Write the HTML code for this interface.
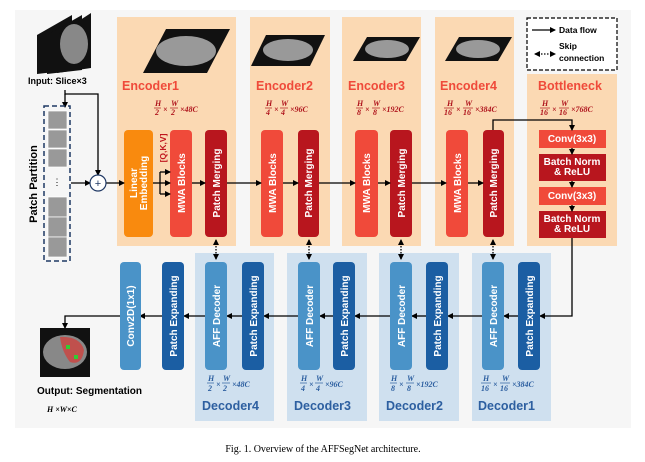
<!DOCTYPE html>
<html><head><meta charset="utf-8"><style>
body{margin:0;background:#fff;width:645px;height:462px;overflow:hidden}
svg{display:block;font-family:"Liberation Sans",Arial,sans-serif}
.w{fill:#fff;font-weight:bold;font-size:10px}
.m{font-family:"Liberation Serif",serif;font-style:italic;font-weight:bold;font-size:8px}
</style></head><body>
<svg width="645" height="462" viewBox="0 0 645 462">
<defs>
<marker id="a" markerWidth="6" markerHeight="6" refX="5" refY="3" orient="auto" markerUnits="userSpaceOnUse"><path d="M0,0 L6,3 L0,6z" fill="#000"/></marker>
<marker id="b" markerWidth="6" markerHeight="6" refX="5" refY="3" orient="auto-start-reverse" markerUnits="userSpaceOnUse"><path d="M0,0 L6,3 L0,6z" fill="#000"/></marker>
</defs>
<rect x="15" y="10" width="616" height="418" fill="#f6f6f6"/>
<g fill="#fbd9b3">
<rect x="117" y="17" width="119" height="229"/>
<rect x="250" y="17" width="80" height="229"/>
<rect x="342" y="17" width="79" height="229"/>
<rect x="435" y="17" width="79" height="229"/>
<rect x="527" y="74" width="90" height="172"/>
</g>
<g fill="#cfe0ef">
<rect x="195" y="253" width="79" height="168"/>
<rect x="287" y="253" width="80" height="168"/>
<rect x="379" y="253" width="80" height="168"/>
<rect x="472" y="253" width="79" height="168"/>
</g>
<rect x="527" y="18" width="90" height="52" fill="#fff" stroke="#000" stroke-width="1.2" stroke-dasharray="4,2"/>
<line x1="532" y1="30" x2="555" y2="30" stroke="#000" stroke-width="1.3" marker-end="url(#a)"/>
<text x="559" y="33" font-size="8.5" font-weight="bold">Data flow</text>
<line x1="535" y1="54" x2="555" y2="54" stroke="#000" stroke-width="1.3" stroke-dasharray="1.5,1.5" marker-end="url(#a)" marker-start="url(#b)"/>
<text x="559" y="49" font-size="8.5" font-weight="bold">Skip</text>
<text x="559" y="61" font-size="8.5" font-weight="bold">connection</text>
<polygon points="143,73 166,29 230,29 207,73" fill="#111"/><ellipse cx="186" cy="51" rx="30" ry="15" fill="#999"/>
<polygon points="251,66 266,35 325,35 310,66" fill="#111"/><ellipse cx="288" cy="50" rx="25" ry="11" fill="#999"/>
<polygon points="353,61 367,37 420,37 406,61" fill="#111"/><ellipse cx="387" cy="49" rx="22" ry="9" fill="#999"/>
<polygon points="445,61 459,37 512,37 498,61" fill="#111"/><ellipse cx="478" cy="49" rx="22" ry="9" fill="#999"/>
<polygon points="37,35 72,15 72,70 37,74" fill="#111"/>
<polygon points="47,35 82,15 82,70 47,74" fill="#111"/>
<polygon points="57,35 91,13 91,68 57,73" fill="#111"/>
<ellipse cx="74" cy="44" rx="14" ry="20" fill="#888"/>
<text x="28" y="84" font-size="9" font-weight="bold">Input: Slice×3</text>
<g fill="#ef4a3a" font-weight="bold" font-size="12.5">
<text x="122" y="90">Encoder1</text><text x="256" y="90">Encoder2</text><text x="348" y="90">Encoder3</text><text x="440" y="90">Encoder4</text><text x="538" y="90">Bottleneck</text>
</g>
<g fill="#b0161e" class="m">
<text x="155" y="106">H</text><line x1="154" y1="108" x2="161" y2="108" stroke="#b0161e" stroke-width=".7"/><text x="155" y="115">2</text><text x="163" y="112">×</text><text x="171" y="106">W</text><line x1="170" y1="108" x2="178" y2="108" stroke="#b0161e" stroke-width=".7"/><text x="171" y="115">2</text><text x="180" y="112">×48C</text>
<text x="266" y="106">H</text><line x1="265" y1="108" x2="272" y2="108" stroke="#b0161e" stroke-width=".7"/><text x="266" y="115">4</text><text x="274" y="112">×</text><text x="281" y="106">W</text><line x1="280" y1="108" x2="288" y2="108" stroke="#b0161e" stroke-width=".7"/><text x="281" y="115">4</text><text x="290" y="112">×96C</text>
<text x="357" y="106">H</text><line x1="356" y1="108" x2="363" y2="108" stroke="#b0161e" stroke-width=".7"/><text x="357" y="115">8</text><text x="365" y="112">×</text><text x="373" y="106">W</text><line x1="372" y1="108" x2="380" y2="108" stroke="#b0161e" stroke-width=".7"/><text x="373" y="115">8</text><text x="382" y="112">×192C</text>
<text x="447" y="106">H</text><line x1="444" y1="108" x2="454" y2="108" stroke="#b0161e" stroke-width=".7"/><text x="444" y="115">16</text><text x="456" y="112">×</text><text x="465" y="106">W</text><line x1="463" y1="108" x2="473" y2="108" stroke="#b0161e" stroke-width=".7"/><text x="463" y="115">16</text><text x="475" y="112">×384C</text>
<text x="542" y="106">H</text><line x1="540" y1="108" x2="550" y2="108" stroke="#b0161e" stroke-width=".7"/><text x="540" y="115">16</text><text x="552" y="112">×</text><text x="561" y="106">W</text><line x1="559" y1="108" x2="569" y2="108" stroke="#b0161e" stroke-width=".7"/><text x="559" y="115">16</text><text x="571" y="112">×768C</text>
</g>
<rect x="124" y="130" width="29" height="107" rx="4" fill="#f98a0e"/>
<g fill="#f04a3a"><rect x="170" y="130" width="22" height="107" rx="4"/><rect x="261" y="130" width="22" height="107" rx="4"/><rect x="355" y="130" width="23" height="107" rx="4"/><rect x="446" y="130" width="22" height="107" rx="4"/></g>
<g fill="#b8161e"><rect x="205" y="130" width="22" height="107" rx="4"/><rect x="298" y="130" width="21" height="107" rx="4"/><rect x="390" y="130" width="22" height="107" rx="4"/><rect x="483" y="130" width="21" height="107" rx="4"/></g>
<g class="w" text-anchor="middle">
<text transform="translate(137,183) rotate(-90)">Linear</text><text transform="translate(147,183) rotate(-90)">Embedding</text>
<text transform="translate(185,183) rotate(-90)">MWA Blocks</text><text transform="translate(276,183) rotate(-90)">MWA Blocks</text><text transform="translate(370,183) rotate(-90)">MWA Blocks</text><text transform="translate(461,183) rotate(-90)">MWA Blocks</text>
<text transform="translate(220,183) rotate(-90)">Patch Merging</text><text transform="translate(312,183) rotate(-90)">Patch Merging</text><text transform="translate(405,183) rotate(-90)">Patch Merging</text><text transform="translate(497,183) rotate(-90)">Patch Merging</text>
</g>
<text transform="translate(166,148) rotate(-90)" text-anchor="middle" fill="#c0161e" font-weight="bold" font-size="8.5">[Q,K,V]</text>
<g fill="#f04a3a"><rect x="539" y="130" width="67" height="18"/><rect x="539" y="187" width="67" height="18"/></g>
<g fill="#b8161e"><rect x="539" y="154" width="67" height="27"/><rect x="539" y="211" width="67" height="27"/></g>
<g class="w" font-size="8" text-anchor="middle">
<text x="572" y="142">Conv(3x3)</text><text x="572" y="199">Conv(3x3)</text>
<text x="572" y="165">Batch Norm</text><text x="572" y="175">&amp; ReLU</text>
<text x="572" y="222">Batch Norm</text><text x="572" y="232">&amp; ReLU</text>
</g>
<g stroke="#000" stroke-width="1.3" fill="none">
<line x1="572" y1="148" x2="572" y2="154" marker-end="url(#a)"/><line x1="572" y1="181" x2="572" y2="187" marker-end="url(#a)"/><line x1="572" y1="205" x2="572" y2="211" marker-end="url(#a)"/>
<polyline points="493,130 493,120 572,120 572,130" marker-end="url(#a)"/>
<polyline points="572,238 572,316 540,316" marker-end="url(#a)"/>
<line x1="71" y1="183" x2="90" y2="183" marker-end="url(#a)"/>
<line x1="106" y1="183" x2="124" y2="183" marker-end="url(#a)"/>
<polyline points="153,183 160,183"/><polyline points="160,172 160,194"/>
<line x1="160" y1="172" x2="170" y2="172" marker-end="url(#a)"/><line x1="160" y1="183" x2="170" y2="183" marker-end="url(#a)"/><line x1="160" y1="194" x2="170" y2="194" marker-end="url(#a)"/>
<line x1="192" y1="183" x2="205" y2="183" marker-end="url(#a)"/>
<line x1="227" y1="183" x2="261" y2="183" marker-end="url(#a)"/>
<line x1="283" y1="183" x2="298" y2="183" marker-end="url(#a)"/>
<line x1="319" y1="183" x2="355" y2="183" marker-end="url(#a)"/>
<line x1="378" y1="183" x2="390" y2="183" marker-end="url(#a)"/>
<line x1="412" y1="183" x2="446" y2="183" marker-end="url(#a)"/>
<line x1="468" y1="183" x2="483" y2="183" marker-end="url(#a)"/>
<polyline points="65,90 65,94 98,94 98,175" marker-end="url(#a)"/>
<line x1="65" y1="94" x2="65" y2="107" marker-end="url(#a)"/>
<line x1="518" y1="316" x2="504" y2="316" marker-end="url(#a)"/>
<line x1="482" y1="316" x2="448" y2="316" marker-end="url(#a)"/>
<line x1="426" y1="316" x2="412" y2="316" marker-end="url(#a)"/>
<line x1="390" y1="316" x2="355" y2="316" marker-end="url(#a)"/>
<line x1="333" y1="316" x2="320" y2="316" marker-end="url(#a)"/>
<line x1="298" y1="316" x2="264" y2="316" marker-end="url(#a)"/>
<line x1="242" y1="316" x2="227" y2="316" marker-end="url(#a)"/>
<line x1="205" y1="316" x2="184" y2="316" marker-end="url(#a)"/>
<line x1="162" y1="316" x2="140" y2="316" marker-end="url(#a)"/>
<polyline points="120,316 65,316 65,328" marker-end="url(#a)"/>
</g>
<g stroke="#000" stroke-width="1.3" stroke-dasharray="1.5,1.5">
<line x1="216" y1="240" x2="216" y2="259" marker-end="url(#a)" marker-start="url(#b)"/>
<line x1="309" y1="240" x2="309" y2="259" marker-end="url(#a)" marker-start="url(#b)"/>
<line x1="401" y1="240" x2="401" y2="259" marker-end="url(#a)" marker-start="url(#b)"/>
<line x1="493" y1="240" x2="493" y2="259" marker-end="url(#a)" marker-start="url(#b)"/>
</g>
<circle cx="98" cy="183" r="8" fill="#fff" stroke="#1f3864" stroke-width="1.2"/>
<text x="98" y="187" text-anchor="middle" font-size="11" fill="#1f3864">+</text>
<rect x="44" y="106" width="26" height="155" fill="none" stroke="#1f3864" stroke-width="1.5" stroke-dasharray="5,3"/>
<g fill="#999" stroke="#fff" stroke-width=".7">
<rect x="48" y="111" width="19" height="18"/><rect x="48" y="130" width="19" height="18"/><rect x="48" y="149" width="19" height="18"/>
<rect x="48" y="197" width="19" height="20"/><rect x="48" y="217" width="19" height="20"/><rect x="48" y="237" width="19" height="20"/>
</g>
<text x="57" y="185" text-anchor="middle" font-size="9">⋮</text>
<text transform="translate(37,184) rotate(-90)" text-anchor="middle" font-size="11" font-weight="bold">Patch Partition</text>
<g fill="#4a93c8"><rect x="120" y="262" width="21" height="108" rx="4"/><rect x="205" y="262" width="22" height="108" rx="4"/><rect x="298" y="262" width="22" height="108" rx="4"/><rect x="390" y="262" width="22" height="108" rx="4"/><rect x="482" y="262" width="22" height="108" rx="4"/></g>
<g fill="#1b5ea3"><rect x="162" y="262" width="22" height="108" rx="4"/><rect x="242" y="262" width="22" height="108" rx="4"/><rect x="333" y="262" width="22" height="108" rx="4"/><rect x="426" y="262" width="22" height="108" rx="4"/><rect x="518" y="262" width="22" height="108" rx="4"/></g>
<g class="w" text-anchor="middle">
<text transform="translate(134,316) rotate(-90)">Conv2D(1x1)</text>
<text transform="translate(177,316) rotate(-90)">Patch Expanding</text><text transform="translate(257,316) rotate(-90)">Patch Expanding</text><text transform="translate(348,316) rotate(-90)">Patch Expanding</text><text transform="translate(441,316) rotate(-90)">Patch Expanding</text><text transform="translate(533,316) rotate(-90)">Patch Expanding</text>
<text transform="translate(220,316) rotate(-90)">AFF Decoder</text><text transform="translate(313,316) rotate(-90)">AFF Decoder</text><text transform="translate(405,316) rotate(-90)">AFF Decoder</text><text transform="translate(497,316) rotate(-90)">AFF Decoder</text>
</g>
<g fill="#2d5fa0" class="m">
<text x="208" y="381">H</text><line x1="207" y1="383" x2="214" y2="383" stroke="#2d5fa0" stroke-width=".7"/><text x="208" y="391">2</text><text x="216" y="387">×</text><text x="223" y="381">W</text><line x1="222" y1="383" x2="230" y2="383" stroke="#2d5fa0" stroke-width=".7"/><text x="223" y="391">2</text><text x="232" y="387">×48C</text>
<text x="301" y="381">H</text><line x1="300" y1="383" x2="307" y2="383" stroke="#2d5fa0" stroke-width=".7"/><text x="301" y="391">4</text><text x="309" y="387">×</text><text x="316" y="381">W</text><line x1="315" y1="383" x2="323" y2="383" stroke="#2d5fa0" stroke-width=".7"/><text x="316" y="391">4</text><text x="325" y="387">×96C</text>
<text x="391" y="381">H</text><line x1="390" y1="383" x2="397" y2="383" stroke="#2d5fa0" stroke-width=".7"/><text x="391" y="391">8</text><text x="399" y="387">×</text><text x="407" y="381">W</text><line x1="406" y1="383" x2="414" y2="383" stroke="#2d5fa0" stroke-width=".7"/><text x="407" y="391">8</text><text x="416" y="387">×192C</text>
<text x="483" y="381">H</text><line x1="481" y1="383" x2="491" y2="383" stroke="#2d5fa0" stroke-width=".7"/><text x="481" y="391">16</text><text x="493" y="387">×</text><text x="502" y="381">W</text><line x1="500" y1="383" x2="510" y2="383" stroke="#2d5fa0" stroke-width=".7"/><text x="500" y="391">16</text><text x="512" y="387">×384C</text>
</g>
<g fill="#2d5fa0" font-weight="bold" font-size="12.5">
<text x="202" y="410">Decoder4</text><text x="294" y="410">Decoder3</text><text x="386" y="410">Decoder2</text><text x="478" y="410">Decoder1</text>
</g>
<rect x="40" y="328" width="50" height="49" fill="#111"/>
<ellipse cx="65" cy="352" rx="22" ry="17" fill="#888"/>
<path d="M60,337 Q80,336 84,350 Q82,366 70,362 Q62,352 60,337z" fill="#c0504d"/>
<rect x="66" y="345" width="4" height="4" fill="#3c3"/><rect x="74" y="355" width="4" height="4" fill="#3c3"/>
<text x="37" y="394" font-size="10" font-weight="bold">Output: Segmentation</text>
<text x="47" y="412" class="m" font-size="8">H ×W×C</text>
<text x="323" y="452" text-anchor="middle" font-family="Liberation Serif,serif" font-size="10">Fig. 1.  Overview of the AFFSegNet architecture.</text>
</svg>
</body></html>
